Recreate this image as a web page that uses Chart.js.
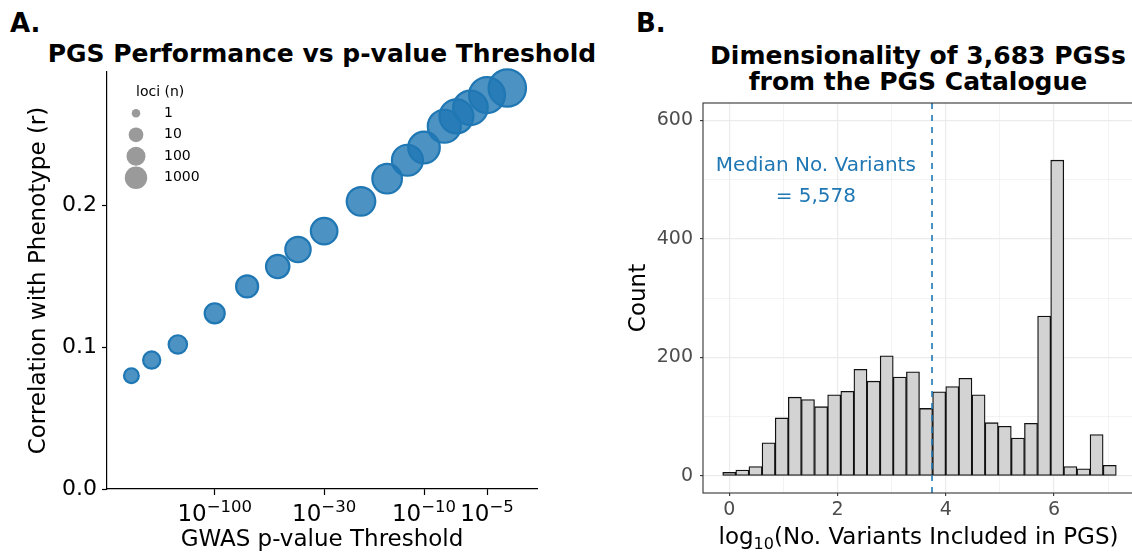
<!DOCTYPE html>
<html>
<head>
<meta charset="utf-8">
<title>PGS figure</title>
<script src="https://cdn.jsdelivr.net/npm/chart.js@4.4.1/dist/chart.umd.min.js"></script>
<style>
  html, body { margin: 0; padding: 0; background: #fff; width: 1132px; height: 552px; overflow: hidden; }
  .txt { position: absolute; font-family: "DejaVu Sans", sans-serif; color: #000; white-space: nowrap; }
  .tag { font-weight: bold; font-size: 26px; line-height: 30px; top: 8px; }
  .ttl { font-weight: bold; font-size: 25px; text-align: center; }
  .wrap { position: absolute; top: 0; height: 552px; }
</style>
</head>
<body>
<div class="txt tag" style="left:10px">A.</div>
<div class="txt ttl" style="left:22px; width:600px; top:39px; line-height:30px">PGS Performance vs p-value Threshold</div>
<div class="txt tag" style="left:636px">B.</div>
<div class="txt ttl" style="left:668px; width:500px; top:43px; line-height:26px">Dimensionality of 3,683 PGSs<br>from the PGS Catalogue</div>

<div class="wrap" style="left:0; width:560px"><canvas id="chartA"></canvas></div>
<div class="wrap" style="left:620px; width:540px"><canvas id="chartB"></canvas></div>

<script>
  // panel A: correlation vs GWAS p-value threshold (exponent of p)
  var pValueExponent = [-250, -200, -150, -100, -70, -50, -40, -30, -20, -15, -12, -10, -8, -7, -6, -5, -4];
  var correlation = [0.080, 0.091, 0.102, 0.124, 0.143, 0.157, 0.169, 0.182, 0.203, 0.219, 0.232, 0.241, 0.256, 0.263, 0.269, 0.278, 0.283];
  var lociN = [2, 5, 8, 15, 32, 54, 116, 185, 400, 584, 1000, 1260, 2150, 3160, 4000, 6800, 11700];
  var xTickExponents = [-100, -30, -10, -5];
  var yTicksA = [0, 0.1, 0.2];
  var legendLoci = [1, 10, 100, 1000];

  // panel B: histogram of log10(no. variants), 30 bins
  var binCentres = [0, 0.242, 0.485, 0.727, 0.970, 1.212, 1.454, 1.697, 1.939, 2.182, 2.424, 2.666, 2.909, 3.151, 3.394,
                    3.636, 3.878, 4.121, 4.363, 4.606, 4.848, 5.090, 5.333, 5.575, 5.818, 6.060, 6.302, 6.545, 6.787, 7.030];
  var binCounts = [6, 10, 16, 56, 98, 133, 129, 117, 137, 143, 180, 160, 203, 167, 176,
                   114, 142, 151, 165, 137, 90, 84, 64, 89, 270, 533, 16, 12, 70, 18];
  var xTicksB = [0, 1, 2, 3, 4, 5, 6, 7];
  var yTicksB = [0, 100, 200, 300, 400, 500, 600];
  var medianVariants = 5578;

  Chart.defaults.font.family = '"DejaVu Sans", sans-serif';
  Chart.defaults.color = '#000';

  var FONT = '"DejaVu Sans", sans-serif';
  var BLUE = '#1f77b4';

  function bubbleR(n) { return 6.5 + 3 * Math.log10(n); }
  function legendR(n) { return Math.sqrt(18 + 36 * Math.log10(n)); }

  var panelA = {
    id: 'panelA',
    afterDraw: function (chart) {
      var ctx = chart.ctx, xs = chart.scales.x;
      ctx.save();
      ctx.fillStyle = '#000';
      ctx.textAlign = 'left';
      ctx.textBaseline = 'alphabetic';
      // 10^-k tick labels
      xTickExponents.forEach(function (e) {
        var px = xs.getPixelForValue(-e);
        var base = '10', sup = '\u2212' + Math.abs(e);
        ctx.font = '23px ' + FONT;
        var wb = ctx.measureText(base).width;
        ctx.font = '16.5px ' + FONT;
        var ws = ctx.measureText(sup).width;
        var left = px - (wb + ws) / 2;
        ctx.font = '23px ' + FONT;
        ctx.fillText(base, left, 521);
        ctx.font = '16.5px ' + FONT;
        ctx.fillText(sup, left + wb, 511.5);
      });
      // size legend
      ctx.textBaseline = 'middle';
      ctx.font = '14px ' + FONT;
      ctx.fillText('loci (n)', 136, 92);
      legendLoci.forEach(function (n, i) {
        var cy = 113.3 + i * 21.5;
        ctx.beginPath();
        ctx.arc(136, cy, legendR(n), 0, Math.PI * 2);
        ctx.fillStyle = '#9a9a9a';
        ctx.fill();
        ctx.fillStyle = '#000';
        ctx.fillText(String(n), 164, cy);
      });
      ctx.restore();
    }
  };

  new Chart(document.getElementById('chartA'), {
    type: 'bubble',
    data: {
      datasets: [{
        data: pValueExponent.map(function (e, i) {
          return { x: -e, y: correlation[i], r: bubbleR(lociN[i]) };
        }),
        backgroundColor: 'rgba(31,119,180,0.8)',
        borderColor: BLUE,
        borderWidth: 2.2,
        clip: false
      }]
    },
    options: {
      responsive: true,
      maintainAspectRatio: false,
      animation: false,
      events: [],
      layout: { padding: { top: 72, right: 23, left: 0, bottom: 0 } },
      plugins: { legend: { display: false }, tooltip: { enabled: false } },
      scales: {
        x: {
          type: 'logarithmic',
          reverse: true,
          min: 2.885,
          max: 327,
          afterBuildTicks: function (s) { s.ticks = xTickExponents.map(function (e) { return { value: -e }; }); },
          afterFit: function (s) { s.height = 63; },
          ticks: { callback: function () { return ''; } },
          grid: { drawOnChartArea: false, drawTicks: true, tickLength: 6, tickColor: '#000', tickWidth: 1.2 },
          border: { color: '#000', width: 1.2 },
          title: { display: true, text: 'GWAS p-value Threshold', color: '#000',
                   font: { size: 23, lineHeight: 1 }, padding: { top: 0, bottom: 0.5 } }
        },
        y: {
          min: 0,
          max: 0.2943,
          afterBuildTicks: function (s) { s.ticks = yTicksA.map(function (v) { return { value: v }; }); },
          afterFit: function (s) { s.width = 107; },
          ticks: { callback: function (v) { return v.toFixed(1); }, color: '#000', font: { size: 22 }, padding: 5 },
          grid: { drawOnChartArea: false, drawTicks: true, tickLength: 5, tickColor: '#000', tickWidth: 1.2 },
          border: { color: '#000', width: 1.2 },
          title: { display: true, text: 'Correlation with Phenotype (r)', color: '#000',
                   font: { size: 23, lineHeight: 1 }, padding: { top: 27.5, bottom: 0 } }
        }
      }
    },
    plugins: [panelA]
  });

  var panelB = {
    id: 'panelB',
    afterDatasetsDraw: function (chart) {
      var ctx = chart.ctx, xs = chart.scales.x, a = chart.chartArea;
      var mx = xs.getPixelForValue(Math.log10(medianVariants));
      ctx.save();
      ctx.strokeStyle = BLUE;
      ctx.lineWidth = 1.6;
      ctx.setLineDash([6, 6]);
      ctx.beginPath();
      ctx.moveTo(mx, a.top);
      ctx.lineTo(mx, a.bottom);
      ctx.stroke();
      ctx.restore();
    },
    afterDraw: function (chart) {
      var ctx = chart.ctx, xs = chart.scales.x, ys = chart.scales.y, a = chart.chartArea;
      ctx.save();
      ctx.fillStyle = BLUE;
      ctx.font = '20px ' + FONT;
      ctx.textAlign = 'center';
      ctx.textBaseline = 'middle';
      var tx = xs.getPixelForValue(1.6);
      ctx.fillText('Median No. Variants', tx, ys.getPixelForValue(523));
      ctx.fillText('= ' + medianVariants.toLocaleString('en-US'), tx, ys.getPixelForValue(472));
      ctx.strokeStyle = '#333';
      ctx.lineWidth = 1.1;
      ctx.strokeRect(a.left, a.top, a.right - a.left, a.bottom - a.top);

      // x axis title with a real subscript
      var parts = [['log', 23, 0], ['10', 16, 5], ['(No. Variants Included in PGS)', 23, 0]];
      var widths = parts.map(function (p) { ctx.font = p[1] + 'px ' + FONT; return ctx.measureText(p[0]).width; });
      var total = widths.reduce(function (s, w) { return s + w; }, 0);
      var x0 = 298.5 - total / 2;
      ctx.fillStyle = '#000';
      ctx.textAlign = 'left';
      ctx.textBaseline = 'alphabetic';
      parts.forEach(function (p, i) {
        ctx.font = p[1] + 'px ' + FONT;
        ctx.fillText(p[0], x0, 543.5 + p[2]);
        x0 += widths[i];
      });
      ctx.restore();
    }
  };

  new Chart(document.getElementById('chartB'), {
    type: 'bar',
    data: {
      datasets: [{
        data: binCentres.map(function (c, i) { return { x: c, y: binCounts[i] }; }),
        backgroundColor: '#d3d3d3',
        borderColor: '#111',
        borderWidth: 1.3,
        borderSkipped: false,
        barPercentage: 1,
        categoryPercentage: 1
      }]
    },
    options: {
      responsive: true,
      maintainAspectRatio: false,
      animation: false,
      events: [],
      layout: { padding: { top: 103, right: 24, left: 0, bottom: 0 } },
      plugins: { legend: { display: false }, tooltip: { enabled: false } },
      scales: {
        x: {
          type: 'linear',
          offset: false,
          min: -0.485,
          max: 7.515,
          afterBuildTicks: function (s) { s.ticks = xTicksB.map(function (v) { return { value: v }; }); },
          afterFit: function (s) { s.height = 59; },
          ticks: { callback: function (v) { return v % 2 === 0 ? String(v) : ''; }, color: '#4d4d4d',
                   font: { size: 19 }, padding: 3, maxRotation: 0, autoSkip: false },
          grid: {
            offset: false,
            color: '#ebebeb',
            lineWidth: function (c) { return c.tick && c.tick.value % 2 === 0 ? 1.2 : 0.6; },
            drawTicks: true,
            tickLength: 3,
            tickWidth: 1.1,
            tickColor: function (c) { return c.tick && c.tick.value % 2 === 0 ? '#333' : 'rgba(0,0,0,0)'; }
          },
          border: { display: false },
          title: { display: false }
        },
        y: {
          min: -28.7,
          max: 629.5,
          afterBuildTicks: function (s) { s.ticks = yTicksB.map(function (v) { return { value: v }; }); },
          afterFit: function (s) { s.width = 83; },
          ticks: { callback: function (v) { return v % 200 === 0 ? String(v) : ''; }, color: '#4d4d4d',
                   font: { size: 19 }, padding: 7 },
          grid: {
            color: '#ebebeb',
            lineWidth: function (c) { return c.tick && c.tick.value % 200 === 0 ? 1.2 : 0.6; },
            drawTicks: true,
            tickLength: 3,
            tickWidth: 1.1,
            tickColor: function (c) { return c.tick && c.tick.value % 200 === 0 ? '#333' : 'rgba(0,0,0,0)'; }
          },
          border: { display: false },
          title: { display: true, text: 'Count', color: '#000',
                   font: { size: 23, lineHeight: 1 }, padding: { top: 7.5, bottom: 0 } }
        }
      }
    },
    plugins: [panelB]
  });
</script>
</body>
</html>
